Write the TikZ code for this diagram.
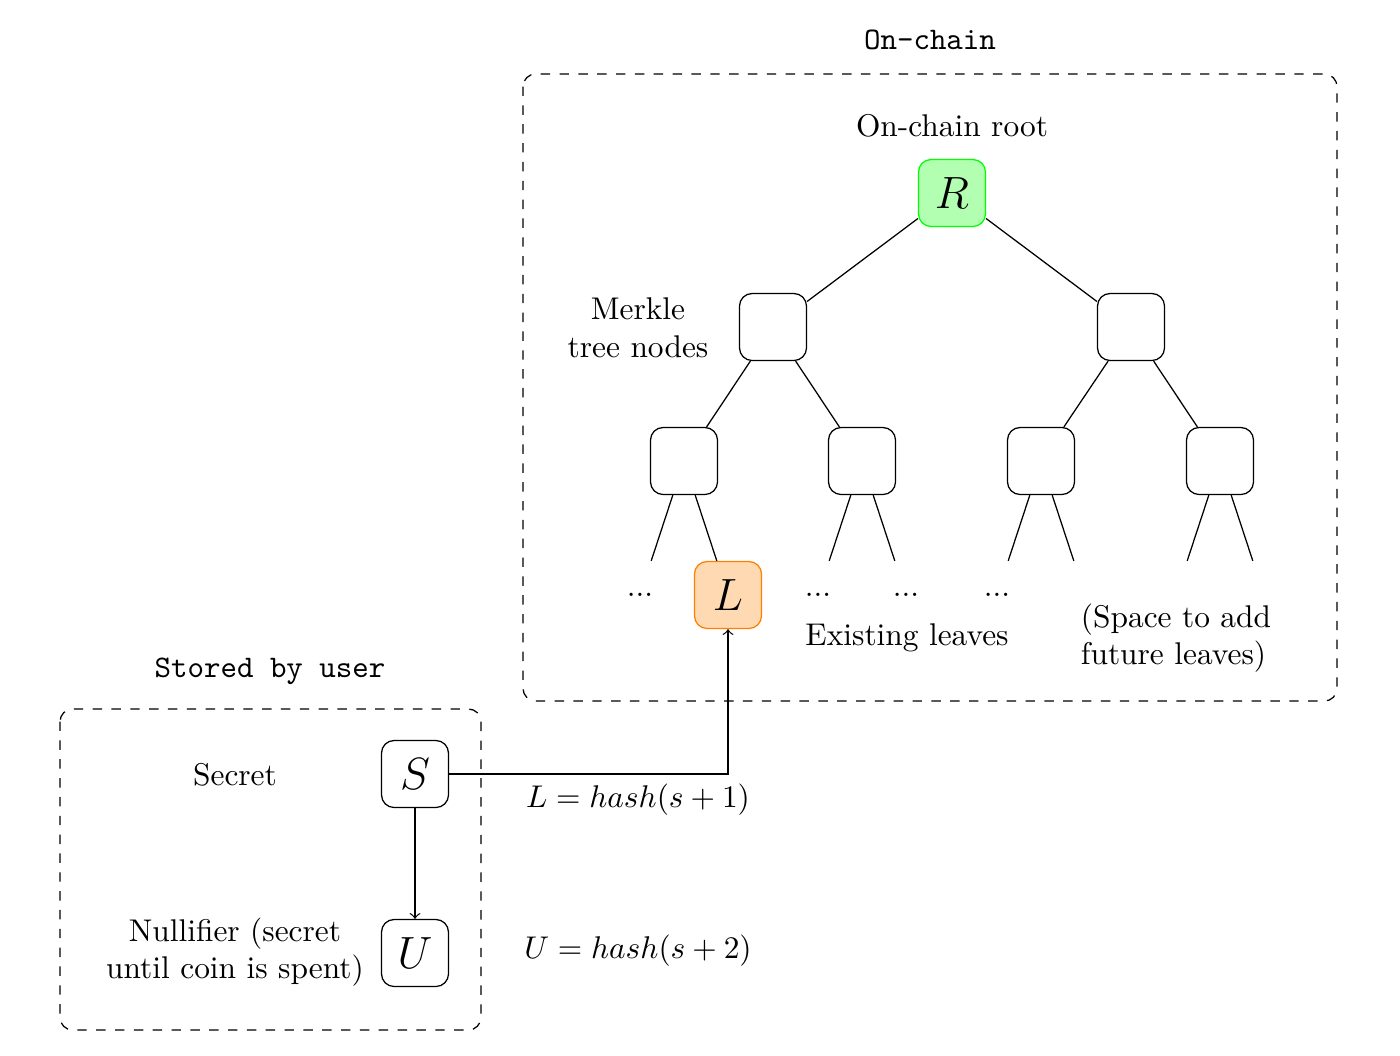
\documentclass[tikz,border=0pt]{standalone}
\begin{document}
\begin{tikzpicture}[x=0.3185pt,y=-0.3185pt,
  box/.style={draw, rounded corners, minimum size=0.75cm, inner sep=0pt, font=\Large},
  ghost/.style={minimum size=0.75cm, inner sep=0pt},
  group/.style={draw, dashed, rounded corners},
  rootbox/.style={box, draw=green, fill=green!30},
  leafbox/.style={box, draw=orange, fill=orange!30}]
\useasboundingbox (0,0) rectangle (1400,1055);
% on-chain group
\draw[group] (523,74) rectangle (1337,701);
\node (tOn) at (930,40) {\ttfamily On-chain};
\node (tRoot) at (952,126) {On-chain root};
\node[rootbox] (R) at (952,193) {$R$};
\node[box] (A) at (773,327) {};
\node[box] (B) at (1131,327) {};
\node[box] (A1) at (684,461) {};
\node[box] (A2) at (862,461) {};
\node[box] (B1) at (1041,461) {};
\node[box] (B2) at (1220,461) {};
\node[ghost] (l1) at (640,595) {...};
\node[leafbox] (L) at (728,595) {$L$};
\node[ghost] (l3) at (818,595) {...};
\node[ghost] (l4) at (906,595) {...};
\node[ghost] (l5) at (997,595) {...};
\node[ghost] (l6) at (1085,595) {};
\node[ghost] (l7) at (1176,595) {};
\node[ghost] (l8) at (1264,595) {};
\draw (R) -- (A); \draw (R) -- (B);
\draw (A) -- (A1); \draw (A) -- (A2);
\draw (B) -- (B1); \draw (B) -- (B2);
\draw (A1) -- (l1); \draw (A1) -- (L);
\draw (A2) -- (l3); \draw (A2) -- (l4);
\draw (B1) -- (l5); \draw (B1) -- (l6);
\draw (B2) -- (l7); \draw (B2) -- (l8);
\node[align=center] (tMerkle) at (638,328) {Merkle\\tree nodes};
\node (tExist) at (907,638) {Existing leaves};
\node[align=left] (tSpace) at (1176,638) {(Space to add\\future leaves)};
% user group
\draw[group] (60,709) rectangle (481,1030);
\node (tUser) at (270,671) {\ttfamily Stored by user};
\node[box] (S) at (415,774) {$S$};
\node[box] (U) at (415,953) {$U$};
\node (tSecret) at (235,775) {Secret};
\node[align=center] (tNull) at (235,952) {Nullifier (secret\\until coin is spent)};
\draw[->] (S) -- (U);
\draw[->] (S.east) -| (L.south);
\node (fL) at (638,800) {$L = hash(s+1)$};
\node (fU) at (638,951) {$U = hash(s+2)$};
\end{tikzpicture}
\end{document}
